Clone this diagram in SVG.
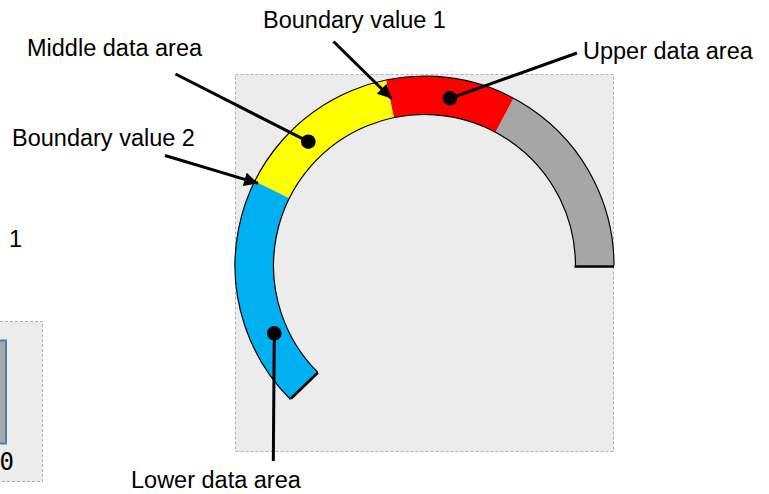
<svg xmlns="http://www.w3.org/2000/svg" width="769" height="494" viewBox="0 0 769 494">
<style>
.lbl{font-family:"Liberation Sans",Arial,sans-serif;font-size:23.5px;fill:#000}
.mono{font-family:"DejaVu Sans Mono","Liberation Mono",monospace;font-size:24px;fill:#000}
.panel{fill:#ececec;stroke:#a8b0c8;stroke-width:1;stroke-dasharray:3 2}
.lead{stroke:#000;stroke-width:3;fill:none}
.dot{fill:#000}
.edge{fill:none;stroke:#000;stroke-width:1.2}
.cap{stroke:#000;stroke-width:2.6}
</style>
<defs>
<marker id="arr" viewBox="0 0 10 10" refX="10" refY="5" markerWidth="5.5" markerHeight="4.6" orient="auto" markerUnits="strokeWidth">
<path d="M0,0 L10,5 L0,10 Z" fill="#000"/>
</marker>
</defs>
<rect width="769" height="494" fill="#fff"/>
<g id="side-panel">
<rect class="panel" x="-10" y="321.5" width="52.5" height="160"/>
<rect x="-10" y="340.5" width="16" height="103" fill="#a9a9a9" stroke="#4f7cac" stroke-width="2"/>
<text class="mono" x="-0.5" y="470">0</text>
</g>
<g id="side-label"><text class="lbl" x="9" y="247">1</text></g>
<g id="gauge-panel">
<rect class="panel" x="235.5" y="74.5" width="378" height="377"/>
</g>
<g id="gauge">
<path id="seg-upper-rest" d="M614,265.5 A189.5,189.5 0 0 0 513.47,98.19 L495.39,132.18 A151,151 0 0 1 575.5,265.5 Z" fill="#a6a6a6"/>
<path id="seg-upper" d="M513.47,98.19 A189.5,189.5 0 0 0 386.07,79.94 L393.88,117.64 A151,151 0 0 1 495.39,132.18 Z" fill="#ff0000"/>
<path id="seg-middle" d="M386.07,79.94 A189.5,189.5 0 0 0 254.76,181.25 L289.25,198.37 A151,151 0 0 1 393.88,117.64 Z" fill="#ffff00"/>
<path id="seg-lower" d="M254.76,181.25 A189.5,189.5 0 0 0 290.5,399.5 L317.73,372.27 A151,151 0 0 1 289.25,198.37 Z" fill="#00b0f0"/>
<path class="edge" d="M614,265.5 A189.5,189.5 0 1 0 290.5,399.5"/>
<path class="edge" d="M575.5,265.5 A151,151 0 1 0 317.73,372.27"/>
<line class="cap" x1="574.5" y1="266.5" x2="614" y2="266.5"/>
<line class="cap" x1="291" y1="398.5" x2="318" y2="372.5"/>
</g>
<g id="connectors">
<line class="lead" x1="333.5" y1="41.5" x2="391.5" y2="98.5" marker-end="url(#arr)"/>
<line class="lead" x1="165" y1="155.5" x2="258" y2="183.3" marker-end="url(#arr)"/>
<line class="lead" x1="577" y1="53" x2="450" y2="98.3"/>
<circle class="dot" cx="450" cy="98.3" r="7.3"/>
<line class="lead" x1="175.5" y1="74" x2="308.3" y2="141.7"/>
<circle class="dot" cx="308.3" cy="141.7" r="7.3"/>
<line class="lead" x1="274.3" y1="333.3" x2="273.3" y2="461"/>
<circle class="dot" cx="274.3" cy="333.3" r="7.3"/>
</g>
<g id="label-boundary1"><text class="lbl" x="263" y="28">Boundary value 1</text></g>
<g id="label-upper"><text class="lbl" x="583" y="59">Upper data area</text></g>
<g id="label-middle"><text class="lbl" x="27" y="56">Middle data area</text></g>
<g id="label-boundary2"><text class="lbl" x="12" y="146">Boundary value 2</text></g>
<g id="label-lower"><text class="lbl" x="131" y="488">Lower data area</text></g>
</svg>
